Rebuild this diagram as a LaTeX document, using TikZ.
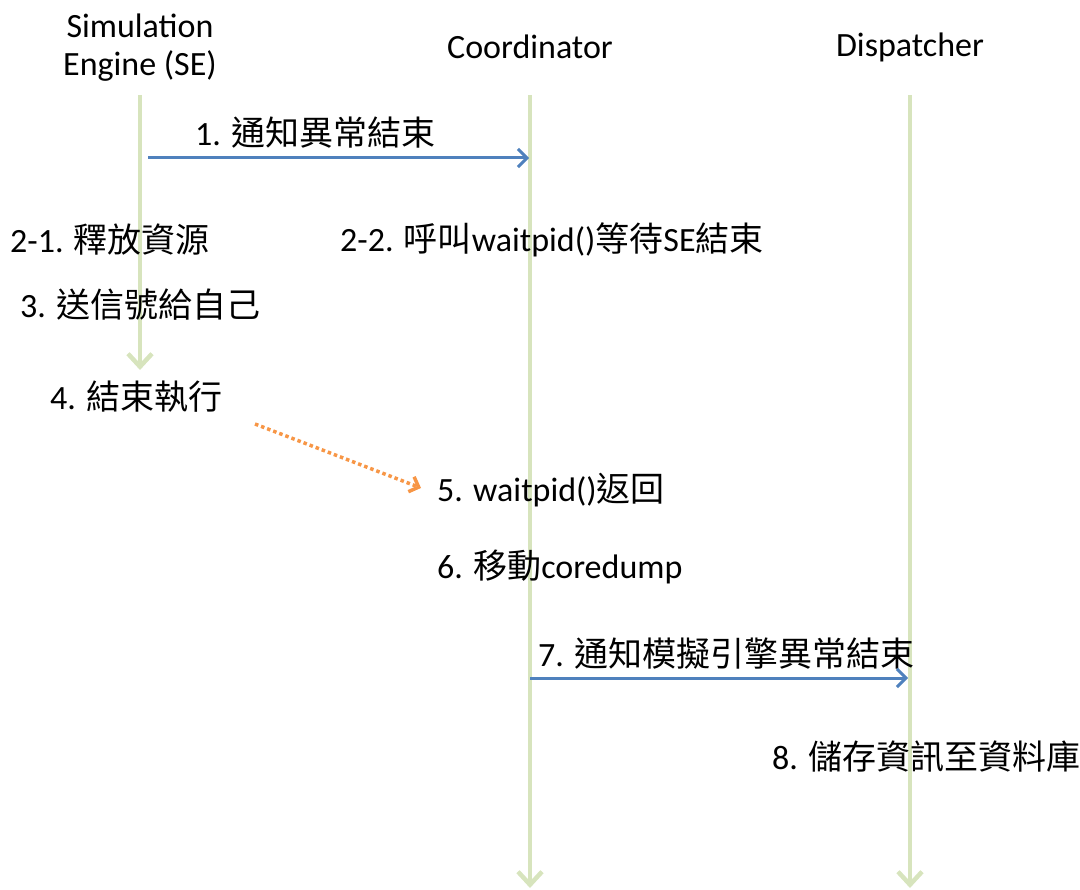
\documentclass[tikz,border=0pt]{standalone}
\usepackage{fontspec}
\setmainfont{Carlito}
\newfontfamily\cjk{Noto Sans CJK TC}
\usetikzlibrary{arrows.meta}
\definecolor{lifegreen}{RGB}{215,228,189}
\definecolor{msgblue}{RGB}{79,129,189}
\definecolor{msgorange}{RGB}{247,150,70}
\begin{document}
\begin{tikzpicture}[x=1pt,y=-1pt,
  lbl/.style={anchor=west,inner sep=0pt,font=\fontsize{34}{38}\selectfont},
  head/.style={inner sep=0pt,align=center,font=\fontsize{34}{38}\selectfont},
  life/.style={draw=lifegreen,line width=4.5pt,-{Straight Barb[length=13pt,width=24pt,line width=4.5pt]}},
  msg/.style={draw=msgblue,line width=3pt,-{Straight Barb[length=9pt,width=18pt,line width=3pt]}},
  async/.style={draw=msgorange,line width=3.5pt,dash pattern=on 3.5pt off 3pt,-{Straight Barb[length=8pt,width=16pt,line width=3.5pt]}}]
\useasboundingbox (0,0) rectangle (1080,890);
% headers
\node[head] (se) at (140,48) {Simulation\\Engine (SE)};
\node[head] (co) at (530,47) {Coordinator};
\node[head] (di) at (910,47) {Dispatcher};
% lifeline coordinates
\coordinate (seT) at (140,95);
\coordinate (seB) at (140,370);
\coordinate (coT) at (530,95);
\coordinate (coB) at (530,888);
\coordinate (diT) at (910,95);
\coordinate (diB) at (910,888);
\draw[life] (seT) -- (seB);
\draw[life] (coT) -- (coB);
\draw[life] (diT) -- (diB);
% messages
\coordinate (m1s) at (148,158);
\coordinate (m1e) at (529,158);
\draw[msg] (m1s) -- (m1e);
\node[lbl] (l1) at (195,133) {1. {\cjk 通知異常結束}};
\node[lbl] (l21) at (10,240) {2-1. {\cjk 釋放資源}};
\node[lbl] (l22) at (340,240) {2-2. {\cjk 呼叫}waitpid(){\cjk 等待}SE{\cjk 結束}};
\node[lbl] (l3) at (20,305) {3. {\cjk 送信號給自己}};
\node[lbl] (l4) at (50,397) {4. {\cjk 結束執行}};
\node[lbl] (l5) at (437,490) {5. waitpid(){\cjk 返回}};
\node[lbl] (l6) at (437,567) {6. {\cjk 移動}coredump};
\node[lbl] (l7) at (538,654) {7. {\cjk 通知模擬引擎異常結束}};
\node[lbl] (l8) at (772,757) {8. {\cjk 儲存資訊至資料庫}};
\coordinate (m5s) at (255,424);
\coordinate (m5e) at (421,488);
\draw[async] (m5s) -- (m5e);
\coordinate (m7s) at (530,678);
\coordinate (m7e) at (908,678);
\draw[msg] (m7s) -- (m7e);
\end{tikzpicture}
\end{document}
